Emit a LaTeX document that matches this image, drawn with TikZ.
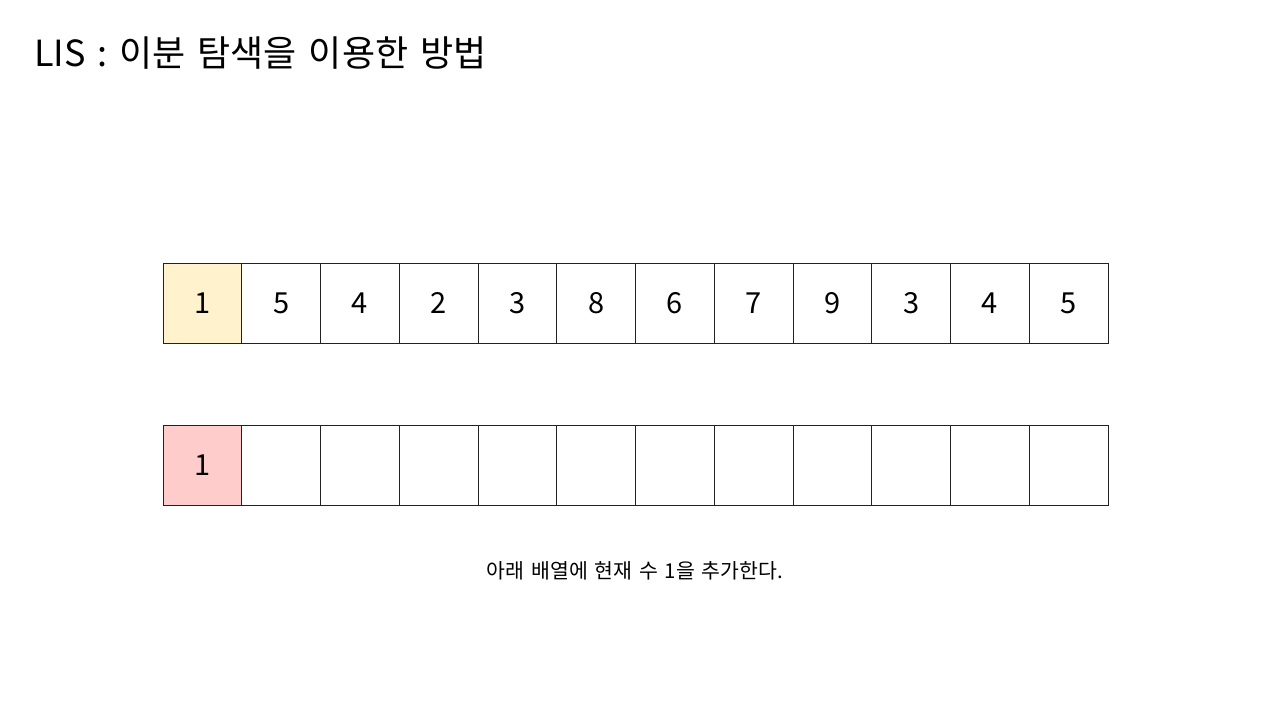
\documentclass[tikz,border=0pt]{standalone}
\usepackage{fontspec}
\setmainfont{Noto Sans CJK KR}
\definecolor{cellyellow}{HTML}{FFF2CC}
\definecolor{cellpink}{HTML}{FFCCCC}
\definecolor{cellline}{HTML}{222222}
\newcommand\myws{\spaceskip=0.33em\relax}
\begin{document}
\begin{tikzpicture}[x=1pt,y=-1pt,
  cell/.style={draw=cellline,line width=0.8pt,minimum width=78.75pt,minimum height=80pt,inner sep=0pt,outer sep=0pt,anchor=north west,font=\fontsize{29}{31}\selectfont},
  title/.style={anchor=west,inner sep=0pt,font=\fontsize{36}{40}\selectfont},
  caption/.style={inner sep=0pt,font=\fontsize{20.5}{24}\selectfont}]
\useasboundingbox (0,0) rectangle (1280,720);
\node[title] (title) at (34,53) {\myws LIS : 이분 탐색을 이용한 방법};
% top row
\foreach \v [count=\i from 0] in {1,5,4,2,3,8,6,7,9,3,4,5} {
  \ifnum\i=0
    \node[cell,fill=cellyellow] (a\i) at ({163+78.75*\i},263) {\v};
  \else
    \node[cell] (a\i) at ({163+78.75*\i},263) {\v};
  \fi
}
% bottom row
\node[cell,fill=cellpink] (b0) at (163,425) {1};
\foreach \i in {1,...,11} {
  \node[cell] (b\i) at ({163+78.75*\i},425) {};
}
\node[caption] (cap) at (635,571) {\myws 아래 배열에 현재 수 1을 추가한다.};
\end{tikzpicture}
\end{document}
